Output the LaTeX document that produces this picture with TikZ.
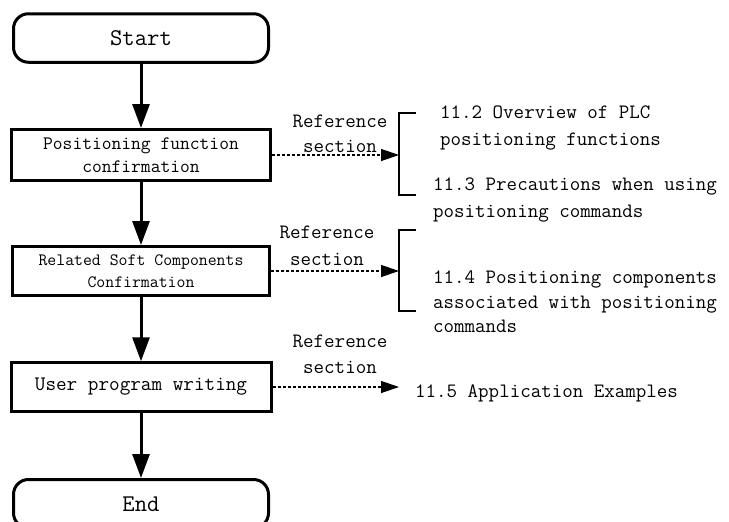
\documentclass[tikz,border=0pt]{standalone}
\usetikzlibrary{arrows.meta}
\begin{document}
\begin{tikzpicture}[x=1pt,y=-1pt,
  box/.style={draw, line width=3pt, minimum height=50pt, inner sep=0pt, align=center},
  term/.style={box, rounded corners=15pt, font=\fontsize{24}{28}\selectfont\ttfamily},
  flow/.style={line width=3pt, -{Triangle[length=24pt,width=17pt]}},
  refarrow/.style={line width=1.3pt, dash pattern=on 3pt off 2pt, -{Triangle[length=18pt,width=12pt]}},
  brk/.style={line width=1.8pt},
  txt/.style={font=\fontsize{20.4}{24}\selectfont\ttfamily, inner sep=0pt, anchor=base west},
  lbl/.style={font=\fontsize{20.4}{24}\selectfont\ttfamily, inner sep=0pt, anchor=base},
]
\useasboundingbox (0,0) rectangle (729,522);
\fill[white] (0,0) rectangle (729,522);
\clip (0,0) rectangle (729,522);

% flow boxes
\node[term, minimum width=255pt, minimum height=48.5pt] (start) at (141,38) {Start};
\node[box, minimum width=259pt, minimum height=51pt, font=\fontsize{19}{23}\selectfont\ttfamily] (pos) at (141,155) {Positioning function\\confirmation};
\node[box, minimum width=257pt, minimum height=49pt, font=\fontsize{17.3}{22}\selectfont\ttfamily] (rel) at (141,271) {Related Soft Components\\Confirmation};
\node[box, minimum width=260pt, minimum height=48.5pt, font=\fontsize{20.6}{24}\selectfont\ttfamily] (user) at (141,387) {User program writing};
\node[term, minimum width=255pt, minimum height=48.5pt] (end) at (141,503.75) {End};

\draw[flow] (start) -- (pos);
\draw[flow] (pos) -- (rel);
\draw[flow] (rel) -- (user);
\draw[flow] (user) -- (end);

% brackets
\coordinate (b1a) at (416,113);
\coordinate (b1b) at (399,113);
\coordinate (b1c) at (399,195);
\coordinate (b1d) at (416,195);
\draw[brk] (b1a) -- (b1b) -- (b1c) -- (b1d);
\coordinate (b2a) at (416,230);
\coordinate (b2b) at (399,230);
\coordinate (b2c) at (399,311);
\coordinate (b2d) at (416,311);
\draw[brk] (b2a) -- (b2b) -- (b2c) -- (b2d);
\coordinate (t3) at (399,387);

% reference arrows
\draw[refarrow] (pos.east) -- (pos.east -| b1b);
\draw[refarrow] (rel.east) -- (rel.east -| b2b);
\draw[refarrow] (user.east) -- (t3);

% reference labels
\node[lbl] (r1a) at (340,127) {Reference};
\node[lbl] (r1b) at (340,152) {section};
\node[lbl] (r2a) at (327,238) {Reference};
\node[lbl] (r2b) at (327,265) {section};
\node[lbl] (r3a) at (340,347) {Reference};
\node[lbl] (r3b) at (340,373) {section};

% target texts
\node[txt] (s112a) at (440,118) {11.2 Overview of PLC};
\node[txt] (s112b) at (440,145) {positioning functions};
\node[txt] (s113a) at (433,190) {11.3 Precautions when using};
\node[txt] (s113b) at (433,217) {positioning commands};
\node[txt] (s114a) at (433,283) {11.4 Positioning components};
\node[txt] (s114b) at (433,308) {associated with positioning};
\node[txt] (s114c) at (433,332) {commands};
\node[txt] (s115) at (415,397) {11.5 Application Examples};
\end{tikzpicture}
\end{document}
